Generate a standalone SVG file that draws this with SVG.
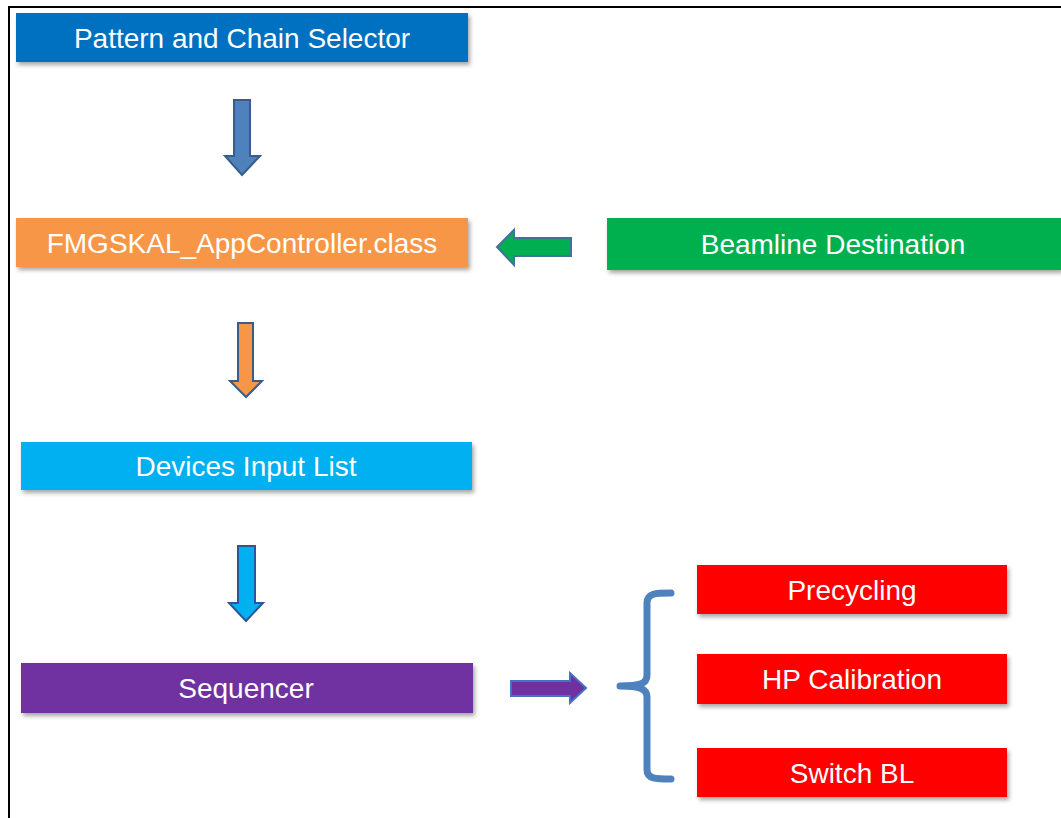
<svg xmlns="http://www.w3.org/2000/svg" width="1061" height="818" viewBox="0 0 1061 818">
<defs>
<filter id="sh" x="-5%" y="-20%" width="110%" height="160%">
<feDropShadow dx="2" dy="3" stdDeviation="2" flood-color="#000" flood-opacity="0.35"/>
</filter>
<style>
.lbl{font-family:"Liberation Sans",Arial,sans-serif;font-size:28px;fill:#fff;text-anchor:middle}
.arr{stroke-width:2;stroke-linejoin:miter}
</style>
</defs>
<rect width="1061" height="818" fill="#fff"/>
<path d="M9,818 L9,7 L1061,7" fill="none" stroke="#000" stroke-width="2"/>

<g id="pattern-chain-selector">
<rect x="16" y="13" width="452" height="49" fill="#0070C0" filter="url(#sh)"/>
<text class="lbl" x="242" y="48">Pattern and Chain Selector</text>
</g>
<g id="appcontroller">
<rect x="16" y="218" width="452" height="49" fill="#F79646" filter="url(#sh)"/>
<text class="lbl" x="242" y="253">FMGSKAL_AppController.class</text>
</g>
<g id="beamline-destination">
<rect x="607" y="218" width="454" height="52" fill="#00B050" filter="url(#sh)"/>
<text class="lbl" x="833" y="254">Beamline Destination</text>
</g>
<g id="devices-input-list">
<rect x="21" y="442" width="451" height="48" fill="#00B0F0" filter="url(#sh)"/>
<text class="lbl" x="246" y="476">Devices Input List</text>
</g>
<g id="sequencer">
<rect x="21" y="663" width="452" height="50" fill="#7030A0" filter="url(#sh)"/>
<text class="lbl" x="246" y="698">Sequencer</text>
</g>
<g id="precycling">
<rect x="697" y="565" width="310" height="49" fill="#FF0000" filter="url(#sh)"/>
<text class="lbl" x="852" y="600">Precycling</text>
</g>
<g id="hp-calibration">
<rect x="697" y="654" width="310" height="50" fill="#FF0000" filter="url(#sh)"/>
<text class="lbl" x="852" y="689">HP Calibration</text>
</g>
<g id="switch-bl">
<rect x="697" y="748" width="310" height="49" fill="#FF0000" filter="url(#sh)"/>
<text class="lbl" x="852" y="783">Switch BL</text>
</g>

<g id="connectors">
<path class="arr" d="M234,100 L250,100 L250,156 L260,156 L242,175 L225,156 L234,156 Z" fill="#4F81BD" stroke="#385D8A"/>
<path class="arr" d="M571,238 L571,256 L514,256 L514,265 L497,247 L514,230 L514,238 Z" fill="#00B050" stroke="#41719C"/>
<path class="arr" d="M238,323 L253,323 L253,381 L262,381 L246,397 L230,381 L238,381 Z" fill="#F79646" stroke="#385D8A"/>
<path class="arr" d="M238,546 L255,546 L255,603 L263,603 L246,621 L229,603 L238,603 Z" fill="#00B0F0" stroke="#2F5597"/>
<path class="arr" d="M511,681 L570,681 L570,673 L586,688 L570,703 L570,696 L511,696 Z" fill="#7030A0" stroke="#4472C4"/>
<path d="M671,593 C656,593 647,593 647,603 L647,675 C647,684 640,686 620,686 C640,686 647,689 647,697 L647,770 C647,779 656,779 671,779" fill="none" stroke="#4F81BD" stroke-width="7" stroke-linecap="round" stroke-linejoin="round"/>
</g>
</svg>
